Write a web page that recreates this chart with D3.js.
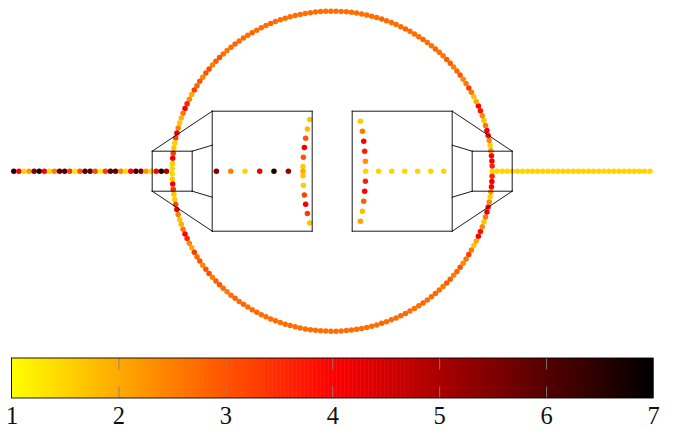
<!DOCTYPE html>
<html>
<head>
<meta charset="utf-8">
<script src="https://cdn.jsdelivr.net/npm/d3@7"></script>
<style>
  body { margin: 0; background: #fff; }
  svg { display: block; }
</style>
</head>
<body>
<div id="root"></div>
<script>
const w = 673;
const h = 430;

// tick labels of the colour bar
const barTicks = [1, 2, 3, 4, 5, 6, 7];

// circle values, counter clockwise from the right hand point
const circleValues = [
  1.5,3.6,4.1,4.0,2.3,1.6,2.4,3.9,4.2,2.6,1.7,2.4,3.8,4.0,2.0,1.7,2.6,3.3,2.6,2.4,3.0,2.8,2.5,2.9,2.9,2.6,2.7,
  2.8,2.7,2.7,2.8,2.7,2.7,2.7,2.8,2.7,2.7,2.7,2.7,2.8,2.7,2.7,2.7,2.7,2.7,2.7,2.7,2.7,2.7,2.7,2.7,2.7,2.7,2.7,
  2.7,2.7,2.7,2.7,2.7,2.7,2.7,2.8,2.7,2.7,2.7,2.8,2.7,2.8,2.7,2.8,2.7,
  2.6,2.7,3.0,2.9,2.5,3.1,3.0,2.4,3.0,2.8,3.3,2.0,2.4,3.6,4.0,2.6,1.9,1.7,2.5,4.2,3.2,1.6,1.7,3.3,4.1,1.6,1.5,
  1.5,1.6,4.1,3.4,1.7,1.6,3.2,4.2,2.5,1.7,1.9,2.6,4.0,3.6,2.4,2.0,3.3,2.8,3.0,2.4,3.0,3.1,2.5,2.9,3.0,2.7,2.6,
  2.7,2.8,2.7,2.8,2.7,2.7,2.8,2.7,2.7,2.7,2.7,2.7,2.7,2.7,2.7,2.7,2.7,2.7,2.7,2.7,2.7,2.7,2.7,2.7,2.7,2.7,2.7,
  2.7,2.7,2.7,2.7,2.8,2.7,2.7,2.7,2.7,2.8,2.7,2.7,2.7,2.8,2.7,2.7,2.8,
  2.7,2.6,2.9,2.9,2.5,2.8,3.0,2.4,2.6,3.3,2.6,1.7,2.0,4.0,3.8,2.4,1.7,2.6,4.2,3.9,2.4,1.6,2.3,4.0,4.1,3.6
];

// left pipe
const leftLineX = [-1.99,-1.958,-1.926,-1.895,-1.863,-1.831,-1.799,-1.767,-1.736,-1.704,-1.672,-1.64,-1.608,-1.577,-1.545,-1.513,-1.481,-1.449,-1.418,-1.386,-1.354,-1.322,-1.29,-1.259,-1.227,-1.195,-1.163,-1.131,-1.1,-1.068,-1.036];
const leftLineV = [6.6,4,1.5,2.2,5.5,6.6,4,1.5,2.5,6,6,3.3,1.3,3,6,6,3.1,1.2,3.3,6,6,2.5,1.4,4,6.3,5.5,2.2,1.5,4,6.7,5];

// right pipe
const rightLineX = [1.03,1.062,1.094,1.125,1.157,1.189,1.221,1.252,1.284,1.316,1.348,1.38,1.411,1.443,1.475,1.507,1.539,1.57,1.602,1.634,1.666,1.698,1.729,1.761,1.793,1.825,1.857,1.888,1.92,1.952,1.986];
const rightLineV = rightLineX.map(() => 1.5);

// inside the left box
const leftInnerX = [-0.724,-0.634,-0.545,-0.453,-0.364,-0.274];
const leftInnerV = [5.5,2.5,1.5,4.3,6.8,5.2];
const leftArcX = [-0.141,-0.155,-0.166,-0.174,-0.18,-0.1825,-0.1825,-0.1825,-0.18,-0.174,-0.166,-0.155,-0.141];
const leftArcY = [0.323,0.264,0.206,0.148,0.0875,0.029,0,-0.029,-0.0875,-0.148,-0.206,-0.264,-0.323];
const leftArcV = [1.7,1.8,3,4.2,3,1.6,2,1.7,1.6,3.2,4.2,3.3,1.7];

// inside the right box
const rightArcX = [0.176,0.189,0.197,0.203,0.2075,0.209,0.2075,0.203,0.197,0.189,0.176];
const rightArcY = [0.3125,0.25,0.1875,0.125,0.0625,0,-0.0625,-0.125,-0.1875,-0.25,-0.3125];
const rightArcV = [1.6,2.6,4,3.7,2.3,1.5,3.6,4,2.9,1.8,2.1];
const rightInnerX = [0.29,0.372,0.453,0.534,0.616,0.697];
const rightInnerV = [1.5,1.5,1.5,1.5,1.5,1.5];

// outline of the two boxes and the two nozzles, [x1, y1, x2, y2]
const frameSegments = [
  [-0.75,0.375,-0.125,0.375],[-0.125,0.375,-0.125,-0.375],[-0.125,-0.375,-0.75,-0.375],[-0.75,-0.375,-0.75,0.375],
  [0.125,0.375,0.75,0.375],[0.125,0.375,0.125,-0.375],[0.125,-0.375,0.75,-0.375],[0.75,-0.375,0.75,0.375],
  [-1.125,0.125,-0.875,0.125],[-1.125,-0.125,-0.875,-0.125],[-1.125,0.125,-1.125,-0.125],[-0.875,0.125,-0.875,-0.125],
  [0.875,0.125,1.125,0.125],[0.875,-0.125,1.125,-0.125],[0.875,0.125,0.875,-0.125],[1.125,0.125,1.125,-0.125],
  [-1.125,0.125,-0.75,0.375],[-1.125,-0.125,-0.75,-0.375],[-0.875,0.125,-0.75,0.1625],[-0.875,-0.125,-0.75,-0.1625],
  [1.125,0.125,0.75,0.375],[1.125,-0.125,0.75,-0.375],[0.875,0.125,0.75,0.1625],[0.875,-0.125,0.75,-0.1625]
];

const xScale = d3.scaleLinear().domain([-2, 2]).range([12.2, 652.2]);
const yScale = d3.scaleLinear().domain([-1, 1]).range([331.2, 11.2]);

// yellow - red - black
const color = d3.scaleLinear().domain([1, 4, 7]).range(["#ffff00", "#ff0000", "#000000"]);

const svg = d3.select("#root")
  .append("svg")
  .attr("width", w)
  .attr("height", h);

const n = circleValues.length;
const circlePoints = circleValues.map((v, i) => {
  const a = 2 * Math.PI * i / n;
  return { x: Math.cos(a), y: Math.sin(a), v: v };
});
const zipX = (xs, vs) => xs.map((x, i) => ({ x: x, y: 0, v: vs[i] }));
const zipXY = (xs, ys, vs) => xs.map((x, i) => ({ x: x, y: ys[i], v: vs[i] }));

const points = [].concat(
  zipX(rightLineX, rightLineV),
  zipX(leftLineX, leftLineV),
  zipX(leftInnerX, leftInnerV),
  zipX(rightInnerX, rightInnerV),
  zipXY(leftArcX, leftArcY, leftArcV),
  zipXY(rightArcX, rightArcY, rightArcV),
  circlePoints
);

svg.append("g")
  .selectAll("circle")
  .data(points)
  .enter()
  .append("circle")
  .attr("cx", d => xScale(d.x))
  .attr("cy", d => yScale(d.y))
  .attr("r", 2.75)
  .attr("fill", d => color(d.v));

// frames go over the dots
svg.append("g")
  .selectAll("line")
  .data(frameSegments)
  .enter()
  .append("line")
  .attr("x1", d => xScale(d[0]))
  .attr("y1", d => yScale(d[1]))
  .attr("x2", d => xScale(d[2]))
  .attr("y2", d => yScale(d[3]))
  .attr("stroke", "black")
  .attr("stroke-width", 0.9)
  .attr("stroke-linecap", "square");

// colour bar
const barScale = d3.scaleLinear().domain([1, 7]).range([11.5, 653]);
const barTop = 358;
const barBottom = 398;
const steps = d3.range(160);
const stepW = (barScale(7) - barScale(1)) / steps.length;

svg.append("g")
  .selectAll("rect")
  .data(steps)
  .enter()
  .append("rect")
  .attr("x", d => barScale(1) + d * stepW)
  .attr("y", barTop)
  .attr("width", stepW + 0.5)
  .attr("height", barBottom - barTop)
  .attr("fill", d => color(1 + 6 * (d + 0.5) / steps.length));

// short grey ticks, top and bottom
const inner = barTicks.slice(1, -1);
svg.append("g")
  .attr("transform", "translate(0," + barBottom + ")")
  .call(d3.axisTop(barScale).tickValues(inner).tickSize(11.5).tickFormat(""))
  .call(g => g.select(".domain").remove())
  .selectAll("line").attr("stroke", "#808080").attr("stroke-width", 0.9);
svg.append("g")
  .attr("transform", "translate(0," + barTop + ")")
  .call(d3.axisBottom(barScale).tickValues(inner).tickSize(11.5).tickFormat(""))
  .call(g => g.select(".domain").remove())
  .selectAll("line").attr("stroke", "#808080").attr("stroke-width", 0.9);

svg.append("rect")
  .attr("x", barScale(1))
  .attr("y", barTop)
  .attr("width", barScale(7) - barScale(1))
  .attr("height", barBottom - barTop)
  .attr("fill", "none")
  .attr("stroke", "black")
  .attr("stroke-width", 0.9);

// labels
const labelAxis = svg.append("g")
  .attr("transform", "translate(0," + barBottom + ")")
  .call(d3.axisBottom(barScale).tickValues(barTicks).tickSize(0).tickPadding(9).tickFormat(d3.format("d")));
labelAxis.select(".domain").remove();
labelAxis.selectAll("text")
  .attr("font-family", "'Liberation Serif', serif")
  .attr("font-size", 24.5)
  .attr("fill", "#111");
</script>
</body>
</html>
